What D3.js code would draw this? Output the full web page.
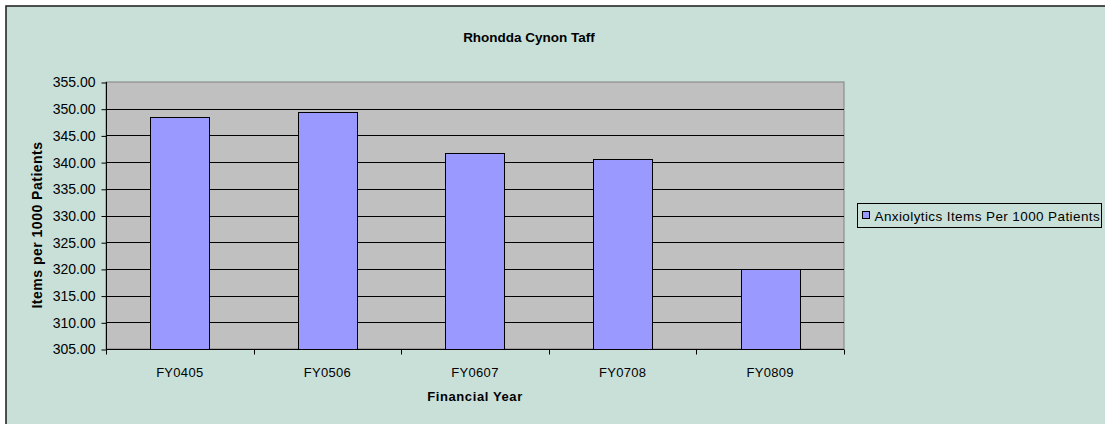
<!DOCTYPE html>
<html>
<head>
<meta charset="utf-8">
<script src="https://cdn.jsdelivr.net/npm/d3@7"></script>
<style>
  body { margin: 0; background: #fff; }
  svg text { font-family: "Liberation Sans", Arial, sans-serif; fill: #000; }
</style>
</head>
<body>
<svg width="1105" height="424"></svg>
<script>
// Data
var years = ['FY0405', 'FY0506', 'FY0607', 'FY0708', 'FY0809'];
var itemsPer1000 = [348.4, 349.45, 341.7, 340.6, 320.0];
var yTicks = [305, 310, 315, 320, 325, 330, 335, 340, 345, 350, 355];
var seriesName = 'Anxiolytics Items Per 1000 Patients';

var svg = d3.select('svg');

// outer chart area
svg.append('rect')
    .attr('x', 6).attr('y', 6)
    .attr('width', 1110).attr('height', 430)
    .style('fill', '#c9e0d9')
    .style('stroke', '#1a1a1a')
    .style('stroke-width', 1.5)
;

var plot = { left: 106, right: 844, top: 82, bottom: 349 };

var xScale = d3.scaleBand()
    .domain(years)
    .range([plot.left, plot.right])
    .paddingInner(0.6)
    .paddingOuter(0.3)
;
var xBands = d3.scaleBand()
    .domain(years)
    .range([plot.left, plot.right])
;

var yScale = d3.scaleLinear()
    .domain([305, 355])
    .range([plot.bottom, plot.top])
;

// plot background
svg.append('rect')
    .attr('x', plot.left).attr('y', plot.top)
    .attr('width', plot.right - plot.left)
    .attr('height', plot.bottom - plot.top)
    .style('fill', '#c0c0c0')
    .style('stroke', '#808080')
    .style('stroke-width', 1)
;

// gridlines
svg.selectAll('.grid')
    .data(yTicks.slice(1, -1))
    .enter()
    .append('line')
    .classed('grid', true)
    .attr('x1', plot.left).attr('x2', plot.right)
    .attr('y1', function(d) { return Math.round(yScale(d)) + 0.5; })
    .attr('y2', function(d) { return Math.round(yScale(d)) + 0.5; })
    .style('stroke', '#000')
    .style('stroke-width', 1)
;

// bars
svg.selectAll('.bar')
    .data(years)
    .enter()
    .append('rect')
    .classed('bar', true)
    .attr('x', function(d) { return Math.round(xScale(d)) + 0.5; })
    .attr('y', function(d, i) { return Math.round(yScale(itemsPer1000[i])) + 0.5; })
    .attr('width', Math.round(xScale.bandwidth()))
    .attr('height', function(d, i) { return Math.round(yScale(305)) - Math.round(yScale(itemsPer1000[i])); })
    .style('fill', '#9999ff')
    .style('stroke', '#000')
    .style('stroke-width', 1)
;

// y axis
var yAxis = d3.axisLeft(yScale)
    .tickValues(yTicks)
    .tickSize(5)
    .tickPadding(6)
    .tickFormat(d3.format('.2f'))
;
var yG = svg.append('g')
    .attr('transform', 'translate(' + (plot.left + 0.5) + ',0.5)')
    .call(yAxis)
;
yG.select('.domain').attr('d', 'M0,' + (plot.top - 0.5) + 'V' + (plot.bottom - 0.5)).style('stroke', '#000');
yG.selectAll('.tick line').style('stroke', '#000');
yG.selectAll('.tick text')
    .style('font-size', '14px')
;

// x axis: ticks on band boundaries, labels centred in bands
var xG = svg.append('g')
    .attr('transform', 'translate(0,' + (plot.bottom + 0.5) + ')')
;
xG.append('line')
    .attr('x1', plot.left).attr('x2', plot.right)
    .style('stroke', '#000')
;
var bounds = years.map(function(d) { return xBands(d); }).concat([plot.right]);
xG.selectAll('.xtick')
    .data(bounds)
    .enter()
    .append('line')
    .attr('x1', function(d) { return Math.round(d) + 0.5; })
    .attr('x2', function(d) { return Math.round(d) + 0.5; })
    .attr('y1', 0).attr('y2', 5)
    .style('stroke', '#000')
;
xG.selectAll('.xlabel')
    .data(years)
    .enter()
    .append('text')
    .attr('x', function(d) { return xBands(d) + xBands.bandwidth() / 2; })
    .attr('y', 27)
    .attr('text-anchor', 'middle')
    .style('font-size', '13px')
    .style('letter-spacing', '0.3px')
    .text(function(d) { return d; })
;

// titles
svg.append('text')
    .attr('x', 529).attr('y', 42)
    .attr('text-anchor', 'middle')
    .style('font-size', '13.5px')
    .style('font-weight', 'bold')
    .text('Rhondda Cynon Taff')
;
svg.append('text')
    .attr('x', 475).attr('y', 401)
    .attr('text-anchor', 'middle')
    .style('font-size', '13px')
    .style('font-weight', 'bold')
    .style('letter-spacing', '0.6px')
    .text('Financial Year')
;
svg.append('text')
    .attr('transform', 'translate(42,225) rotate(-90)')
    .attr('text-anchor', 'middle')
    .style('font-size', '14px')
    .style('font-weight', 'bold')
    .style('letter-spacing', '0.5px')
    .text('Items per 1000 Patients')
;

// legend
var legend = svg.append('g').attr('transform', 'translate(857.5,203.5)');
legend.append('rect')
    .attr('width', 244).attr('height', 24)
    .style('fill', '#c9e0d9')
    .style('stroke', '#000')
;
legend.append('rect')
    .attr('x', 5).attr('y', 8)
    .attr('width', 7).attr('height', 7)
    .style('fill', '#9999ff')
    .style('stroke', '#000')
;
legend.append('text')
    .attr('x', 17).attr('y', 17)
    .style('font-size', '13.5px')
    .style('letter-spacing', '0.4px')
    .text(seriesName)
;
</script>
</body>
</html>
